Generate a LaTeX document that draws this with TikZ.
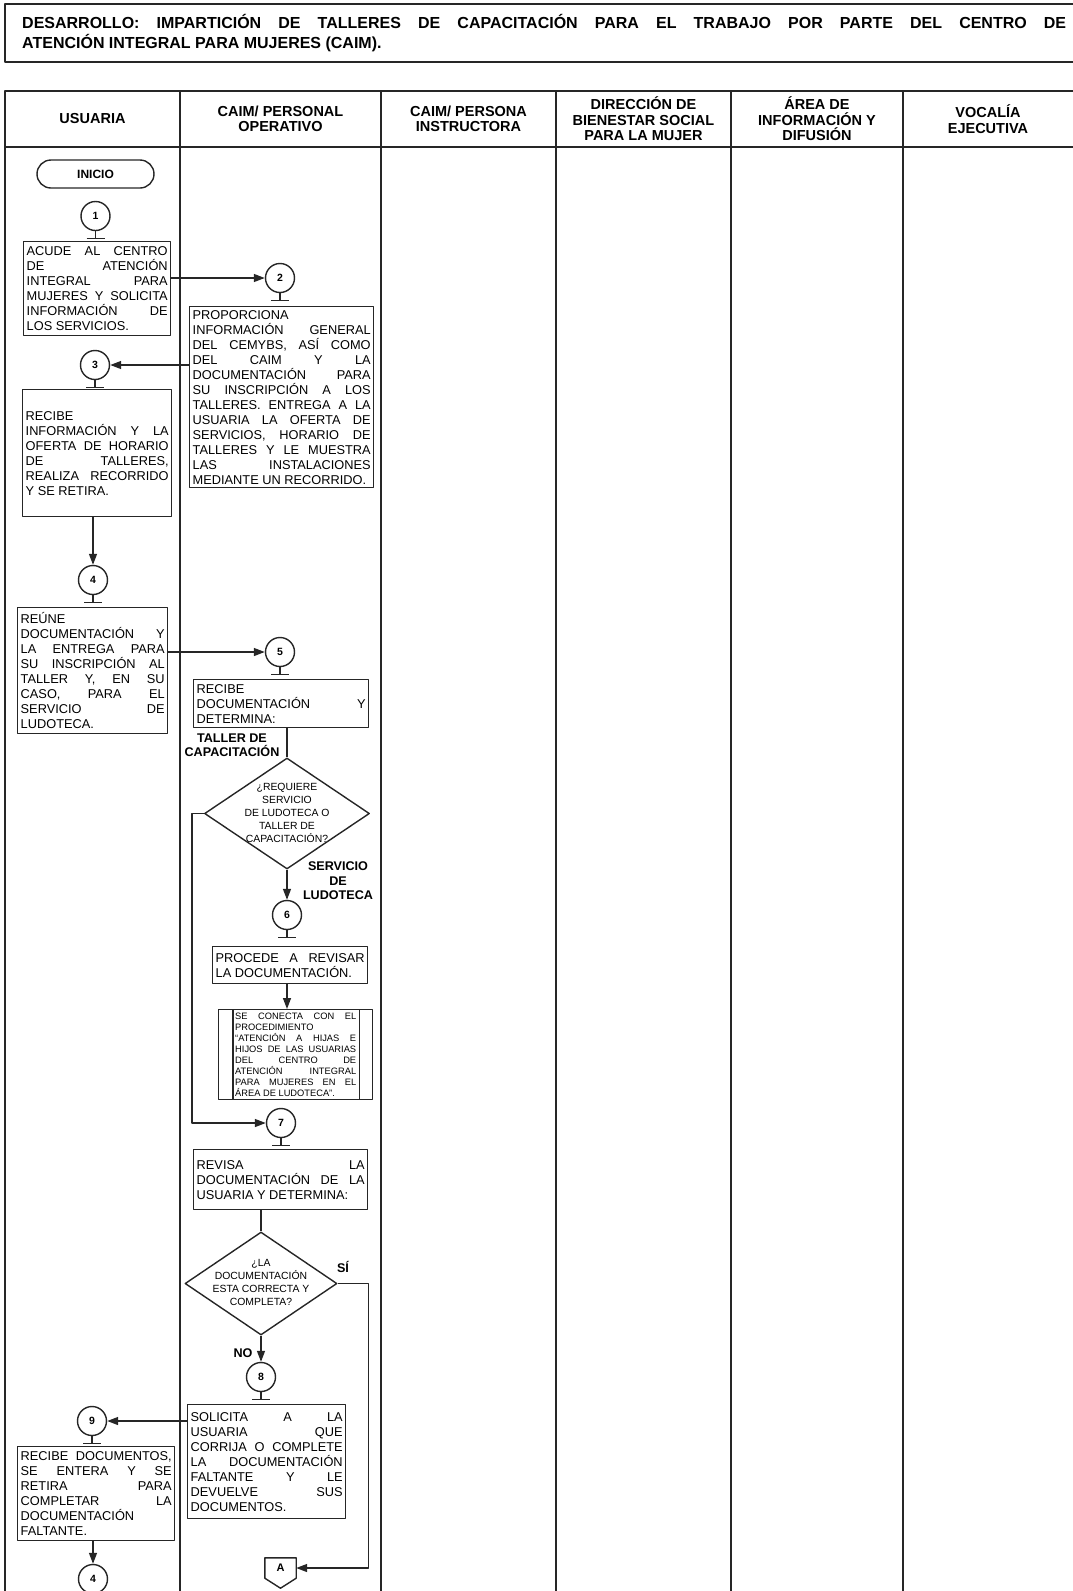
\documentclass[tikz,border=0pt]{standalone}
\usepackage{fontspec}
\setmainfont{Liberation Sans}
\usetikzlibrary{arrows.meta,shapes.geometric,calc}
\newcommand{\fsz}[2]{\fontsize{#1}{#2}\selectfont}
\hyphenpenalty=10000
\exhyphenpenalty=10000
\tolerance=10000
\hbadness=10000
\begin{document}
\begin{tikzpicture}[x=1pt, y=-1pt, line join=round, >={Triangle[length=11pt,width=8pt]},
  lane/.style={draw=black!85, line width=2pt},
  flow/.style={draw=black!85, line width=1.4pt},
  stepbox/.style={flow, anchor=north west, inner xsep=3pt, inner ysep=0pt, align=justify, font=\fsz{12.8}{15}},
  terminal/.style={flow, rounded corners=14pt, minimum width=117pt, minimum height=28pt, inner sep=0pt, font=\bfseries\fsz{12}{14}},
  numcirc/.style={flow, circle, minimum size=29pt, inner sep=0pt, font=\bfseries\fsz{10.5}{12}},
  decision/.style={flow, diamond, inner sep=0pt},
  dtext/.style={align=center, inner sep=0pt, font=\fsz{10.4}{13}},
  headtext/.style={align=center, inner sep=0pt, font=\bfseries\fsz{14.5}{15.5}},
  branch/.style={align=center, inner sep=0pt, font=\bfseries\fsz{12.6}{14.5}}]
\useasboundingbox (0,0) rectangle (1073,1591);

\draw[lane] (1073,4) -- (5,4) -- (5,62) -- (1073,62);
\node[anchor=west, text width=1044pt, align=justify, inner sep=0pt, font=\bfseries\fsz{16}{20}] (title) at (22,33) {DESARROLLO: IMPARTICIÓN DE TALLERES DE CAPACITACIÓN PARA EL TRABAJO POR PARTE DEL CENTRO DE\linebreak ATENCIÓN INTEGRAL PARA MUJERES (CAIM).};

\draw[lane] (1073,91) -- (5,91) -- (5,1591);
\draw[lane] (5,147) -- (1073,147);
\foreach \x in {180,381,556,731,903}
  \draw[lane] (\x,91) -- (\x,1591);

\node[headtext] (h1) at (92.5,119) {USUARIA};
\node[headtext] (h2) at (280.5,119) {CAIM/ PERSONAL\\OPERATIVO};
\node[headtext] (h3) at (468.5,119) {CAIM/ PERSONA\\INSTRUCTORA};
\node[headtext] (h4) at (643.5,119) {DIRECCIÓN DE\\BIENESTAR SOCIAL\\PARA LA MUJER};
\node[headtext] (h5) at (817,119) {ÁREA DE\\INFORMACIÓN Y\\DIFUSIÓN};
\node[headtext] (h6) at (988,119) {VOCALÍA\\EJECUTIVA};

\node[terminal] (inicio) at (95.5,174) {INICIO};

\node[numcirc] (c1) at (95.5,216) {1};
\node[numcirc] (c2) at (280,278) {2};
\node[numcirc] (c3) at (95,365) {3};
\node[numcirc] (c4) at (93,580) {4};
\node[numcirc] (c5) at (280,652) {5};
\node[numcirc] (c6) at (287,915) {6};
\node[numcirc] (c7) at (281,1123) {7};
\node[numcirc] (c8) at (261,1377) {8};
\node[numcirc] (c9) at (92,1421) {9};
\node[numcirc] (c10) at (93,1579) {4};
\foreach \c in {c1,c2,c3,c4,c5,c6,c7,c8,c9,c10}
  \draw[flow] (\c.south) -- ++(0,7) ++(-9,0) -- ++(18,0);

\node[stepbox, text width=141pt, minimum height=94pt] (b1) at (23,241) {ACUDE AL CENTRO\linebreak DE ATENCIÓN\linebreak INTEGRAL PARA\linebreak MUJERES Y SOLICITA\linebreak INFORMACIÓN DE\linebreak LOS SERVICIOS.};
\node[stepbox, text width=178pt, minimum height=181pt] (b2) at (189,306) {PROPORCIONA\linebreak INFORMACIÓN GENERAL\linebreak DEL CEMYBS, ASÍ COMO\linebreak DEL CAIM Y LA\linebreak DOCUMENTACIÓN PARA\linebreak SU INSCRIPCIÓN A LOS\linebreak TALLERES. ENTREGA A LA\linebreak USUARIA LA OFERTA DE\linebreak SERVICIOS, HORARIO DE\linebreak TALLERES Y LE MUESTRA\linebreak LAS INSTALACIONES\linebreak MEDIANTE UN RECORRIDO.};
\node[stepbox, text width=143pt, minimum height=127pt] (b3) at (22,389) {RECIBE\linebreak INFORMACIÓN Y LA\linebreak OFERTA DE HORARIO\linebreak DE TALLERES,\linebreak REALIZA RECORRIDO\linebreak Y SE RETIRA.};
\node[stepbox, text width=144pt, minimum height=126pt] (b4) at (17,607) {REÚNE\linebreak DOCUMENTACIÓN Y\linebreak LA ENTREGA PARA\linebreak SU INSCRIPCIÓN AL\linebreak TALLER Y, EN SU\linebreak CASO, PARA EL\linebreak SERVICIO DE\linebreak LUDOTECA.};
\node[stepbox, text width=169pt, minimum height=48pt] (b5) at (193,679) {RECIBE\linebreak DOCUMENTACIÓN Y\linebreak DETERMINA:};
\node[stepbox, text width=149pt, minimum height=37pt] (b6) at (212,946) {PROCEDE A REVISAR\linebreak LA DOCUMENTACIÓN.};
\node[stepbox, text width=121pt, minimum width=154pt, minimum height=90pt, font=\fsz{9.3}{11}] (pbox) at (218,1009) {SE CONECTA CON EL\linebreak PROCEDIMIENTO\linebreak “ATENCIÓN A HIJAS E\linebreak HIJOS DE LAS USUARIAS\linebreak DEL CENTRO DE\linebreak ATENCIÓN INTEGRAL\linebreak PARA MUJERES EN EL\linebreak ÁREA DE LUDOTECA”.};
\draw[flow] ($(pbox.north west)+(15,0)$) -- ($(pbox.south west)+(15,0)$);
\draw[flow] ($(pbox.north east)+(-14,0)$) -- ($(pbox.south east)+(-14,0)$);
\node[stepbox, text width=168pt, minimum height=60pt] (b7) at (193,1149) {REVISA LA\linebreak DOCUMENTACIÓN DE LA\linebreak USUARIA Y DETERMINA:};
\node[stepbox, text width=152pt, minimum height=114pt] (b8) at (187,1404) {SOLICITA A LA\linebreak USUARIA QUE\linebreak CORRIJA O COMPLETE\linebreak LA DOCUMENTACIÓN\linebreak FALTANTE Y LE\linebreak DEVUELVE SUS\linebreak DOCUMENTOS.};
\node[stepbox, text width=151pt, minimum height=94pt] (b9) at (17,1446) {RECIBE DOCUMENTOS,\linebreak SE ENTERA Y SE\linebreak RETIRA PARA\linebreak COMPLETAR LA\linebreak DOCUMENTACIÓN\linebreak FALTANTE.};

\node[decision, minimum width=165pt, minimum height=111pt] (d1) at (287,813.5) {};
\node[dtext] (d1t) at (287,813) {¿REQUIERE\\SERVICIO\\DE LUDOTECA O\\TALLER DE\\CAPACITACIÓN?};
\node[decision, minimum width=152pt, minimum height=103pt] (d2) at (261,1283.5) {};
\node[dtext] (d2t) at (261,1282.5) {¿LA\\DOCUMENTACIÓN\\ESTA CORRECTA Y\\COMPLETA?};

\node[inner sep=0pt, minimum width=31pt, minimum height=20pt, font=\bfseries\fsz{11}{13}] (conA) at (280.5,1568) {A};
\draw[flow] (conA.north west) -- (conA.north east) -- (conA.south east) -- ($(conA.south)+(0,10)$) -- (conA.south west) -- cycle;

\node[branch] (lbtaller) at (232,745) {TALLER DE\\CAPACITACIÓN};
\node[branch] (lbludo) at (338,881) {SERVICIO\\DE\\LUDOTECA};
\node[branch] (lbsi) at (343,1267) {SÍ};
\node[branch] (lbno) at (243,1353) {NO};

\draw[flow,->] (b1.east |- c2) -- (c2);
\draw[flow,->] (b2.west |- c3) -- (c3);
\draw[flow,->] (c4 |- b3.south) -- (c4);
\draw[flow,->] (b4.east |- c5) -- (c5);
\draw[flow] (d1.north |- b5.south) -- (d1.north);
\draw[flow,->] (d1.south) -- (c6);
\draw[flow,->] (d1.west) -- ++(-12,0) |- (c7);
\draw[flow,->] (c6 |- b6.south) -- (c6 |- pbox.north);
\draw[flow] (d2.north |- b7.south) -- (d2.north);
\draw[flow,->] (d2.south) -- (c8);
\draw[flow,->] (d2.east) -- ++(31,0) |- (conA.east);
\draw[flow,->] (b8.west |- c9) -- (c9);
\draw[flow,->] (c10 |- b9.south) -- (c10);
\end{tikzpicture}
\end{document}
